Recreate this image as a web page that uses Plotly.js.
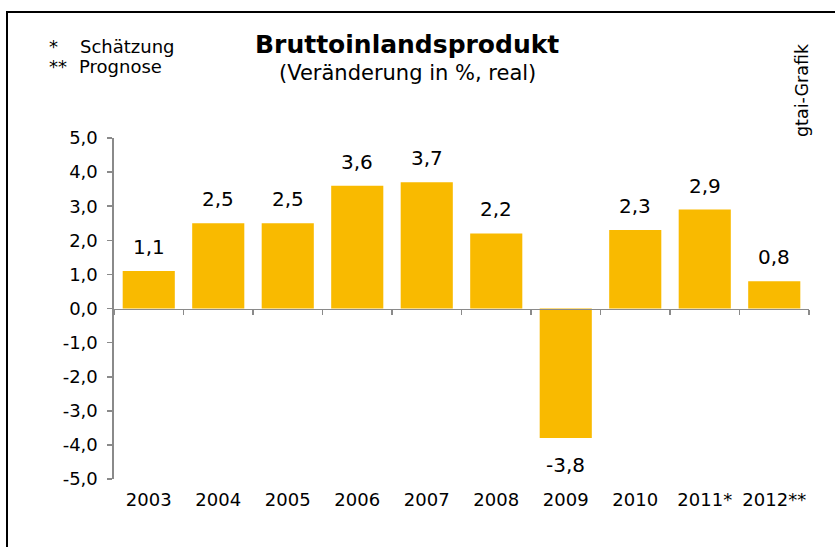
<!DOCTYPE html>
<html><head><meta charset="utf-8">
<script src="https://cdn.plot.ly/plotly-3.0.1.min.js"></script>
<style>
body{margin:0;overflow:hidden;background:#fff}
#frame{position:absolute;left:6px;top:11px;width:900px;height:600px;border:2.5px solid #000;pointer-events:none;box-sizing:border-box}
</style>
</head><body>
<div id="chart" style="width:835px;height:547px"></div>
<div id="frame"></div>
<script>
// ---- data ----
const years = ['2003','2004','2005','2006','2007','2008','2009','2010','2011*','2012**'];
const growth = [1.1, 2.5, 2.5, 3.6, 3.7, 2.2, -3.8, 2.3, 2.9, 0.8];
const yTicks = [-5, -4, -3, -2, -1, 0, 1, 2, 3, 4, 5];
const titleText = 'Bruttoinlandsprodukt';
const subtitleText = '(Veränderung in %, real)';
const noteStar = '*';
const noteStarText = 'Schätzung';
const noteDouble = '**';
const noteDoubleText = 'Prognose';
const sourceText = 'gtai-Grafik';

// ---- helpers ----
const fmt = v => v.toFixed(1).replace('.', ',');
const W = 835, H = 547;
const M = {l:114, r:26, t:138, b:68};
const px = x => (x - M.l) / (W - M.l - M.r);
const py = y => (H - M.b - y) / (H - M.t - M.b);
const FONT = '"DejaVu Sans", Verdana, sans-serif';
const AX = '#8a8a8a';
const BAR = '#F9BA00';

const valueAnn = years.map((c, i) => ({
  x: i, y: growth[i], xref: 'x', yref: 'y',
  text: fmt(growth[i]), showarrow: false,
  yanchor: growth[i] >= 0 ? 'bottom' : 'top',
  yshift: growth[i] >= 0 ? 10 : -13,
  font: {family: FONT, size: 20, color: '#000'}
}));

const textAnn = [
  {x: px(407), y: py(44), text: '<b>' + titleText + '</b>', xanchor: 'center', yanchor: 'middle',
   font: {family: FONT, size: 25, color: '#000'}},
  {x: px(407), y: py(73), text: subtitleText, xanchor: 'center', yanchor: 'middle',
   font: {family: FONT, size: 21, color: '#000'}},
  {x: px(47), y: py(46), text: noteStar, xanchor: 'left', yanchor: 'middle',
   font: {family: FONT, size: 18, color: '#000'}},
  {x: px(78), y: py(46), text: noteStarText, xanchor: 'left', yanchor: 'middle',
   font: {family: FONT, size: 18, color: '#000'}},
  {x: px(47), y: py(67), text: noteDouble, xanchor: 'left', yanchor: 'middle',
   font: {family: FONT, size: 18, color: '#000'}},
  {x: px(77), y: py(67), text: noteDoubleText, xanchor: 'left', yanchor: 'middle',
   font: {family: FONT, size: 18, color: '#000'}},
  {x: px(802), y: py(90), text: sourceText, textangle: -90, xanchor: 'center', yanchor: 'middle',
   font: {family: FONT, size: 17.5, color: '#000'}}
].map(a => Object.assign({xref: 'paper', yref: 'paper', showarrow: false}, a));

const traces = [
  {type: 'bar', x: years, y: growth, marker: {color: BAR}, hoverinfo: 'skip', showlegend: false},
  {type: 'scatter', x: years, y: growth, xaxis: 'x2', mode: 'none', hoverinfo: 'skip', showlegend: false}
];

const layout = {
  width: W, height: H,
  margin: M,
  paper_bgcolor: '#fff', plot_bgcolor: 'rgba(0,0,0,0)',
  separators: ',.',
  bargap: 0.25,
  showlegend: false,
  font: {family: FONT, color: '#000'},
  xaxis: {
    type: 'category', categoryorder: 'array', categoryarray: years,
    range: [-0.5, years.length - 0.5],
    showline: false, ticks: '', showgrid: false, zeroline: false,
    tickfont: {family: FONT, size: 18, color: '#000'},
    ticklabelstandoff: 8, fixedrange: true
  },
  xaxis2: {
    type: 'category', categoryorder: 'array', categoryarray: years,
    range: [-0.5, years.length - 0.5],
    overlaying: 'x', anchor: 'free', position: 0.5,
    showline: true, linecolor: AX, linewidth: 1.6,
    ticks: 'outside', tickson: 'boundaries', ticklen: 5, tickcolor: AX, tickwidth: 1.6,
    showticklabels: false, showgrid: false, zeroline: false, fixedrange: true
  },
  yaxis: {
    range: [-5, 5], tickvals: yTicks, ticktext: yTicks.map(fmt),
    showline: true, linecolor: AX, linewidth: 1.6,
    ticks: 'outside', ticklen: 5, tickcolor: AX, tickwidth: 1.6,
    showgrid: false, zeroline: false,
    tickfont: {family: FONT, size: 18, color: '#000'},
    ticklabelstandoff: 6, fixedrange: true
  },
  annotations: valueAnn.concat(textAnn)
};

Plotly.newPlot('chart', traces, layout, {displayModeBar: false, staticPlot: true});
</script>
</body></html>
